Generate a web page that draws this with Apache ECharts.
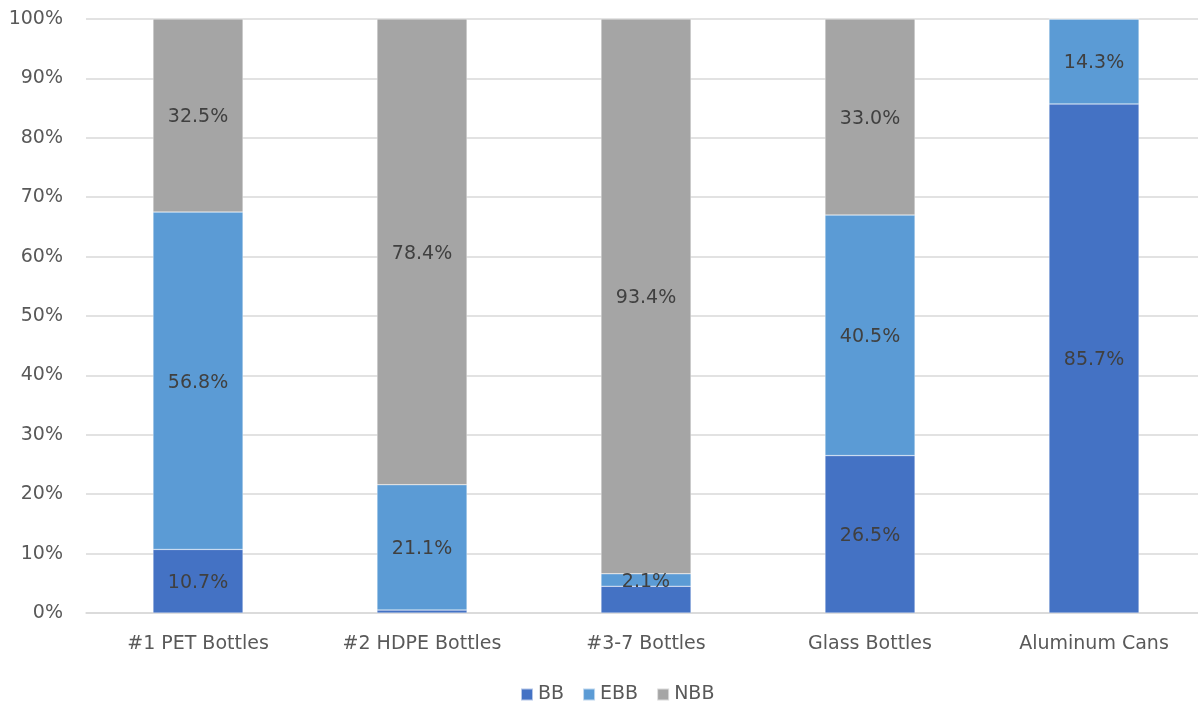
<!DOCTYPE html>
<html><head><meta charset="utf-8">
<script src="https://cdn.jsdelivr.net/npm/echarts@6/dist/echarts.min.js"></script>
<style>html,body{margin:0;padding:0;background:#fff;overflow:hidden}#c{width:1206px;height:704px}</style>
</head><body><div id="c"></div>
<script>
const categories = ['#1 PET Bottles', '#2 HDPE Bottles', '#3-7 Bottles', 'Glass Bottles', 'Aluminum Cans'];
const bbValues  = [10.7, 0.5, 4.5, 26.5, 85.7];
const ebbValues = [56.8, 21.1, 2.1, 40.5, 14.3];
const nbbValues = [32.5, 78.4, 93.4, 33.0, 0];
// labels not displayed in the reference: [seriesIndex, categoryIndex]
const hiddenLabels = [[0,1],[0,2],[2,4]];
const seriesNames = ['BB', 'EBB', 'NBB'];
const colors = ['#4472C4', '#5B9BD5', '#A5A5A5'];
const FONT = 'DejaVu Sans';

const all = [bbValues, ebbValues, nbbValues];
const series = all.map((vals, si) => ({
  name: seriesNames[si],
  type: 'bar',
  stack: 'total',
  barWidth: 90,
  itemStyle: { color: colors[si], borderColor: 'rgba(255,255,255,0.6)', borderWidth: 0.5 },
  label: {
    show: true, position: 'inside', offset: [0, 2], color: '#404040', fontFamily: FONT, fontSize: 19,
    formatter: p => p.value.toFixed(1) + '%'
  },
  data: vals.map((v, ci) => hiddenLabels.some(h => h[0] === si && h[1] === ci)
    ? { value: v, label: { show: false } } : v)
}));

const chart = echarts.init(document.getElementById('c'));
chart.setOption({
  animation: false,
  color: colors,
  grid: { left: 86, right: 0, top: 19, bottom: 91, containLabel: false },
  legend: {
    top: 680, left: 515, itemWidth: 12, itemHeight: 12, itemGap: 18,
    icon: 'rect',
    textStyle: { color: '#595959', fontFamily: FONT, fontSize: 19 },
    data: seriesNames
  },
  xAxis: {
    type: 'category', data: categories,
    axisLine: { show: true, lineStyle: { color: '#D9D9D9', width: 1.5 } },
    axisTick: { show: false },
    axisLabel: { color: '#595959', fontFamily: FONT, fontSize: 19, margin: 22 }
  },
  yAxis: {
    type: 'value', min: 0, max: 100, interval: 10,
    axisLine: { show: false }, axisTick: { show: false },
    splitLine: { lineStyle: { color: '#D9D9D9', width: 1.5 } },
    axisLabel: { color: '#595959', fontFamily: FONT, fontSize: 19, margin: 23, padding: [3, 0, 0, 0], formatter: v => v + '%' }
  },
  series: series
});
</script></body></html>
